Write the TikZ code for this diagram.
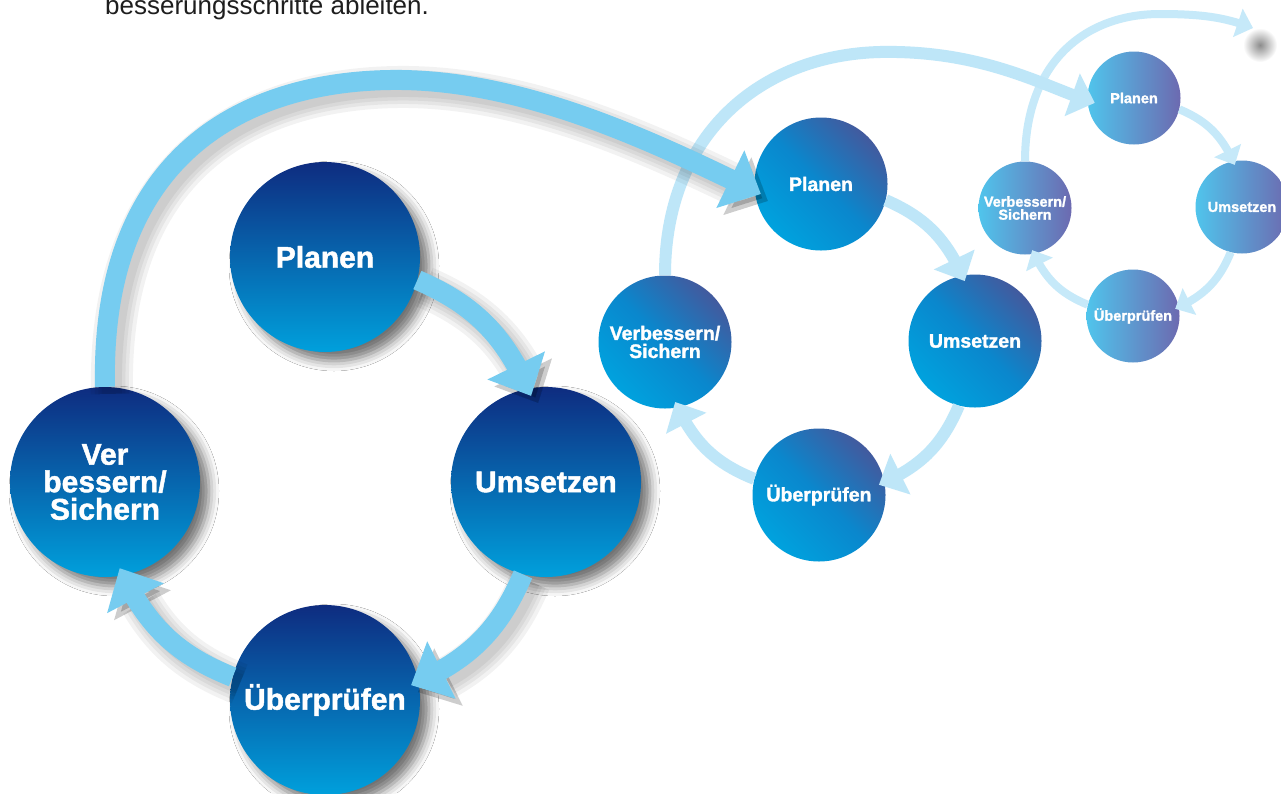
\documentclass[tikz,border=0pt]{standalone}
\usepackage{fontspec}
\setmainfont{Liberation Sans}
\newfontfamily\lblfont{Liberation Sans}[BoldFeatures={FakeBold=1.5}]
\usetikzlibrary{arrows.meta,bending,shadows.blur}

\definecolor{Ltop}{RGB}{14,44,128}
\definecolor{Lbot}{RGB}{0,160,220}
\definecolor{Mdark}{RGB}{66,90,158}
\definecolor{Mmid}{RGB}{10,135,205}
\definecolor{Mlight}{RGB}{0,162,222}
\definecolor{Sleft}{RGB}{80,196,236}
\definecolor{Sright}{RGB}{108,106,176}
\definecolor{ArrL}{RGB}{118,204,240}
\definecolor{ArrM}{RGB}{190,230,248}
\definecolor{ArrS}{RGB}{198,233,249}
\definecolor{TopText}{RGB}{30,30,30}

\tikzset{
  bignode/.style={circle, minimum size=190pt, inner sep=0pt, text=white, align=center,
    font=\lblfont\bfseries\fontsize{30}{27.5}\selectfont,
    top color=Ltop, bottom color=Lbot,
    blur shadow={shadow xshift=9pt, shadow yshift=-9pt, shadow blur radius=10pt, shadow opacity=55}},
  midnode/.style={circle, minimum size=133pt, inner sep=0pt, text=white, align=center,
    font=\lblfont\bfseries\fontsize{19.5}{18}\selectfont,
    top color=Mdark, bottom color=Mlight, middle color=Mmid, shading angle=-45},
  smallnode/.style={circle, minimum size=93pt, inner sep=0pt, text=white, align=center,
    font=\lblfont\bfseries\fontsize{14.5}{13}\selectfont,
    left color=Sleft, right color=Sright},
  shadowstroke/.style={preaction={draw=black, opacity=0.05, line width=#1,
    transform canvas={shift={(7,7)}}}},
  bigarrow/.style={draw=ArrL, line width=20pt, -{Triangle[width=62pt,length=34pt]},
    shadowstroke=42pt, shadowstroke=34pt, shadowstroke=27pt, shadowstroke=20pt},
  midarrow/.style={draw=ArrM, line width=12pt, -{Triangle[width=44pt,length=24pt]}},
  smallarrow/.style={draw=ArrS, line width=8pt, -{Triangle[width=29pt,length=16pt]}},
}

\begin{document}
\begin{tikzpicture}[x=1pt,y=-1pt]
\useasboundingbox (0,0) rectangle (1281,793);
\fill[white] (0,0) rectangle (1281,793);

% top text
\node[anchor=base west, inner sep=0pt, text=TopText, font=\fontsize{26}{30}\selectfont] (txt) at (105,14) {besserungsschritte ableiten.};

% ---------- small cycle ----------
\node[smallnode] (P3) at (1134,98) {Planen};
\node[smallnode] (U3) at (1242,207) {Umsetzen};
\node[smallnode] (C3) at (1133,316) {Überprüfen};
\node[smallnode] (V3) at (1025,208) {Verbessern/\\Sichern};
\draw[smallarrow, shorten >=-4pt] (P3.-14) to[bend left=21] (U3.101);
\draw[smallarrow, shorten >=-4pt] (U3.-104) to[bend left=21] (C3.11);
\draw[smallarrow, shorten >=-4pt] (C3.166) to[bend left=21] (V3.-79);
\shade[inner color=black!45, outer color=white] (1260,45) circle (17);
\coordinate (exit) at (1253,28);
\draw[smallarrow] (V3.90) .. controls (1025,62) and (1085,14) .. (1160,14) .. controls (1205,14) and (1226,18) .. (exit);

% ---------- medium cycle ----------
\node[midnode] (P2) at (821,184) {Planen};
\node[midnode] (U2) at (975,341) {Umsetzen};
\node[midnode] (C2) at (819,495) {Überprüfen};
\node[midnode] (V2) at (665,342) {Verbessern/\\Sichern};
\draw[midarrow, shorten >=-6pt] (P2.-14) to[bend left=21] (U2.101);
\draw[midarrow, shorten >=-6pt] (U2.-104) to[bend left=21] (C2.11);
\draw[midarrow, shorten >=-6pt] (C2.166) to[bend left=21] (V2.-79);
\draw[midarrow, shorten >=-8pt] (V2.90) .. controls (665,135) and (760,55) .. (880,52) .. controls (980,50) and (1040,84) .. (P3.183);

% ---------- large cycle ----------
\node[bignode] (P1) at (325,257) {Planen};
\node[bignode] (U1) at (546,482) {Umsetzen};
\node[bignode] (C1) at (325,700) {Überprüfen};
\node[bignode] (V1) at (105,482) {Ver\\bessern/\\Sichern};
\draw[bigarrow, shorten >=-8pt] (P1.-14) to[bend left=21] (U1.101);
\draw[bigarrow, shorten >=-8pt] (U1.-104) to[bend left=21] (C1.11);
\draw[bigarrow, shorten >=-8pt] (C1.166) to[bend left=21] (V1.-79);
\draw[bigarrow, shorten >=-7pt] (V1.90) .. controls (100,150) and (250,82) .. (390,80) .. controls (520,78) and (650,140) .. (P2.186);
\end{tikzpicture}
\end{document}
